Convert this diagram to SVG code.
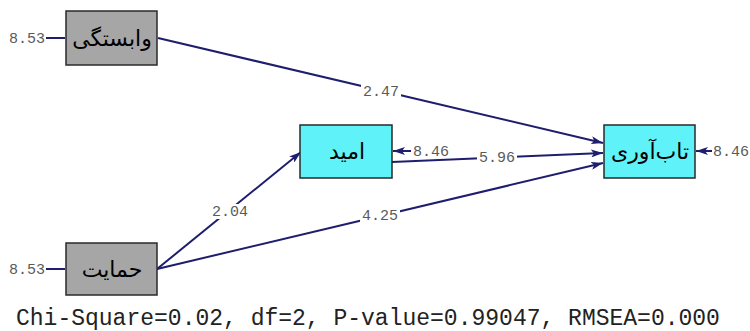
<svg xmlns="http://www.w3.org/2000/svg" width="750" height="331" viewBox="0 0 750 331">
  <style>
    .obs { fill: #a6a6a6; stroke: #2a2a2a; stroke-width: 1.5; }
    .lat { fill: #5ff2f8; stroke: #2a2a2a; stroke-width: 1.5; }
    .name { font-family: "DejaVu Sans", "Noto Sans", sans-serif; font-size: 22px; fill: #000; text-anchor: middle; }
    .path { stroke: #1e1e6e; stroke-width: 2; fill: none; }
    .num { font-family: "Liberation Mono", "Courier New", monospace; font-size: 15px; fill: #5a5a5a; }
    .coef { text-anchor: middle; }
    .gap { fill: #fff; }
    .stats { font-family: "Liberation Mono", "Courier New", monospace; font-size: 23px; fill: #222; }
  </style>
  <defs>
    <marker id="head" viewBox="0 0 12 8" refX="12" refY="4" markerWidth="12" markerHeight="8" markerUnits="userSpaceOnUse" orient="auto">
      <path d="M0,0 L12,4 L0,8 L3,4 Z" fill="#1e1e6e"/>
    </marker>
  </defs>

  <!-- connectors -->
  <g id="connectors">
    <line class="path" x1="158" y1="38" x2="603" y2="143" marker-end="url(#head)"/>
    <line class="path" x1="392" y1="162" x2="603" y2="153" marker-end="url(#head)"/>
    <line class="path" x1="157" y1="269" x2="301" y2="152" marker-end="url(#head)"/>
    <line class="path" x1="157" y1="269" x2="603" y2="163" marker-end="url(#head)"/>
    <!-- error terms -->
    <line class="path" x1="46" y1="38" x2="65" y2="38"/>
    <line class="path" x1="46" y1="269" x2="65" y2="269"/>
    <line class="path" x1="411" y1="151" x2="393" y2="151" marker-end="url(#head)"/>
    <line class="path" x1="712" y1="151" x2="696" y2="151" marker-end="url(#head)"/>
    <!-- coefficients, each on a white gap cut into its path -->
    <rect class="gap" x="361" y="84" width="40" height="15"/>
    <text class="num coef" x="381" y="96">2.47</text>
    <rect class="gap" x="477" y="150" width="40" height="15"/>
    <text class="num coef" x="497" y="162">5.96</text>
    <rect class="gap" x="210" y="204" width="40" height="15"/>
    <text class="num coef" x="230" y="216">2.04</text>
    <rect class="gap" x="360" y="208" width="40" height="15"/>
    <text class="num coef" x="380" y="220">4.25</text>
  </g>

  <g id="vabastegi">
    <rect class="obs" x="66" y="11" width="91" height="54"/>
    <text class="name" x="112" y="46">وابستگی</text>
    <text class="num" x="9" y="43">8.53</text>
  </g>

  <g id="hemayat">
    <rect class="obs" x="66" y="243" width="91" height="52"/>
    <text class="name" x="112" y="277">حمایت</text>
    <text class="num" x="9" y="274">8.53</text>
  </g>

  <g id="omid">
    <rect class="lat" x="300" y="125" width="92" height="53"/>
    <text class="name" x="347" y="159">امید</text>
    <text class="num" x="413" y="156">8.46</text>
  </g>

  <g id="tabavari">
    <rect class="lat" x="604" y="125" width="91" height="53"/>
    <text class="name" x="650" y="159">تاب‌آوری</text>
    <text class="num" x="713" y="156">8.46</text>
  </g>

  <text class="stats" x="16" y="325">Chi-Square=0.02, df=2, P-value=0.99047, RMSEA=0.000</text>
</svg>
